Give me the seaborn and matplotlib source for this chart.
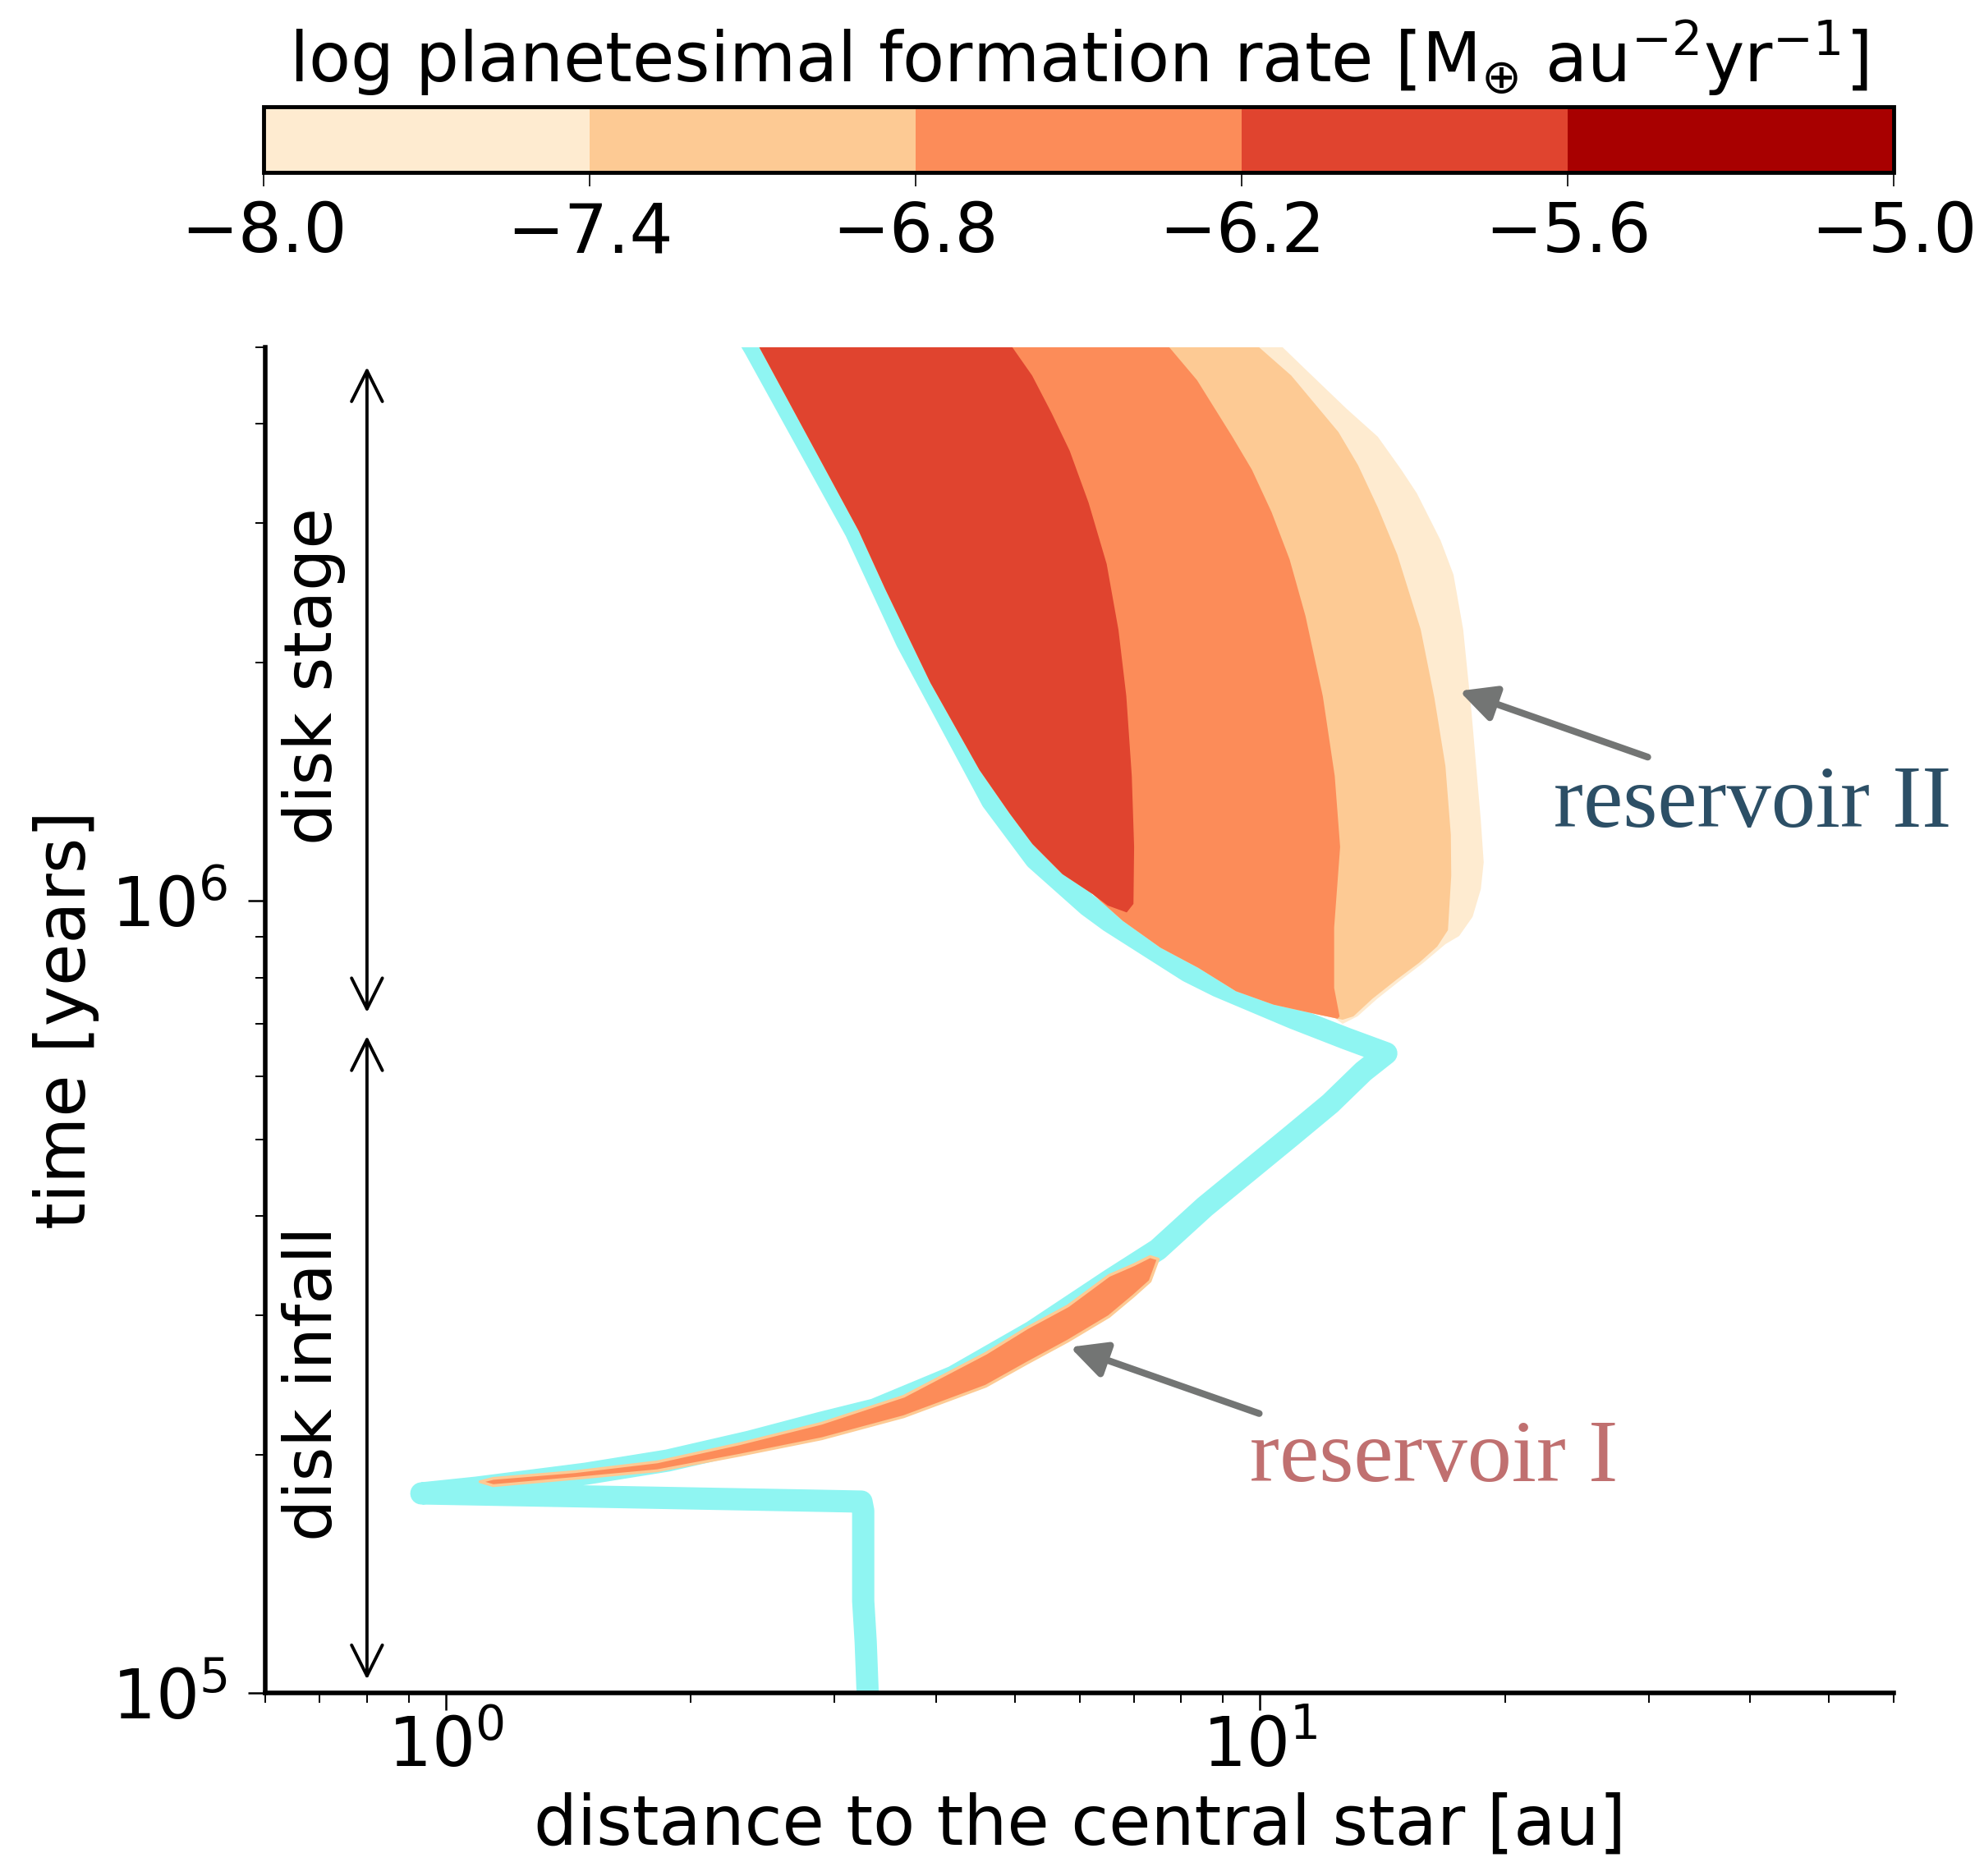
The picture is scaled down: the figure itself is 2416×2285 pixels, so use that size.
import numpy as np
import matplotlib
matplotlib.use("Agg")
import matplotlib.pyplot as plt
import matplotlib as mpl
import seaborn as sns

# ---------------- data ----------------
levels = [-8.0, -7.4, -6.8, -6.2, -5.6, -5.0]
cbar_ticklabels = ["\u22128.0", "\u22127.4", "\u22126.8", "\u22126.2", "\u22125.6", "\u22125.0"]

# snow-line trajectory (distance [au], time [yr])
snow_dist = [3.30, 3.278, 3.255, 3.255, 3.239, 2.891, 0.933, 1.090, 1.484, 1.872,
             2.362, 2.891, 3.362, 4.202, 5.251, 6.546, 7.489, 8.551, 9.851, 10.91,
             12.20, 13.39, 14.29, 12.75, 10.99, 8.874, 8.161, 6.531, 6.150, 5.301,
             4.687, 3.681, 3.187, 2.395, 2.318]
snow_time = [9.7e4, 1.16e5, 1.307e5, 1.699e5, 1.744e5, 1.748e5, 1.786e5, 1.816e5, 1.891e5, 1.965e5,
             2.076e5, 2.193e5, 2.279e5, 2.507e5, 2.858e5, 3.322e5, 3.629e5, 4.109e5, 4.629e5, 5.045e5,
             5.55e5, 6.09e5, 6.42e5, 6.703e5, 7.114e5, 7.806e5, 8.149e5, 9.428e5, 9.865e5, 1.130e6,
             1.339e6, 2.128e6, 2.930e6, 4.99e6, 5.28e6]

# reservoir II: inner edge shared by all levels
r2_inner_time = [5.2e6, 4.99e6, 2.930e6, 2.475e6, 1.885e6, 1.463e6, 1.289e6, 1.180e6, 1.081e6,
                 1.020e6, 9.437e5, 8.729e5, 8.233e5, 7.691e5, 7.396e5, 7.183e5, 7.114e5]
r2_inner_dist = [2.38, 2.429, 3.215, 3.465, 3.937, 4.523, 4.927, 5.253, 5.718,
                 6.229, 6.782, 7.544, 8.395, 9.340, 10.39, 11.81, 12.35]

# outer edge of each contour level (rate >= level), top -> bottom
r2_cream_time = [5.16e6, 4.99e6, 4.669e6, 4.185e6, 3.855e6, 3.502e6, 3.270e6, 2.852e6, 2.581e6,
                 2.201e6, 1.734e6, 1.262e6, 1.119e6, 1.035e6, 9.548e5, 9.03e5, 8.818e5, 8.35e5,
                 7.958e5, 7.52e5, 7.148e5, 6.995e5]
r2_cream_dist = [10.32, 10.68, 11.42, 12.76, 13.95, 14.91, 15.58, 16.66, 17.28,
                 17.76, 18.18, 18.67, 18.82, 18.67, 18.24, 17.56, 16.89, 15.86,
                 14.92, 13.92, 13.17, 12.63]

r2_light_time = [5.16e6, 4.99e6, 4.606e6, 3.908e6, 3.550e6, 3.139e6, 2.737e6, 2.201e6, 1.805e6,
                 1.480e6, 1.212e6, 1.076e6, 9.184e5, 8.756e5, 8.35e5, 7.958e5, 7.52e5, 7.148e5, 7.079e5]
r2_light_dist = [9.672, 9.993, 10.92, 12.48, 13.19, 13.95, 14.74, 15.75, 16.37,
                 16.89, 17.15, 17.17, 17.01, 16.50, 15.67, 14.72, 13.73, 13.02, 12.63]

r2_orange_time = [5.16e6, 5.0e6, 4.544e6, 3.855e6, 3.502e6, 3.096e6, 2.699e6, 2.289e6, 1.814e6,
                  1.438e6, 1.170e6, 9.254e5, 7.764e5, 7.148e5, 7.10e5]
r2_orange_dist = [7.523, 7.735, 8.367, 9.245, 9.772, 10.33, 10.87, 11.37, 11.94,
                  12.35, 12.54, 12.33, 12.33, 12.52, 12.45]

r2_red_time = [5.16e6, 5.0e6, 4.606e6, 4.129e6, 3.700e6, 3.182e6, 2.663e6, 2.198e6, 1.814e6,
               1.438e6, 1.170e6, 9.913e5, 9.670e5, 9.865e5]
r2_red_dist = [4.886, 4.963, 5.248, 5.546, 5.837, 6.157, 6.480, 6.700, 6.850,
               6.957, 7.003, 6.990, 6.858, 6.50]
r2_bottom_time = {-8.0: 0.0, -7.4: 0.0, -6.8: 0.0, -6.2: 1.0e6}

# reservoir I thin band
res1_dist = [1.10, 1.142, 1.440, 1.816, 2.292, 2.891, 3.647, 4.599, 5.167, 5.802, 6.516, 6.987, 7.318, 7.489]
res1_upper = [1.85e5, 1.868e5, 1.905e5, 1.960e5, 2.066e5, 2.193e5, 2.372e5, 2.687e5, 2.893e5, 3.085e5,
              3.370e5, 3.476e5, 3.560e5, 3.534e5]
res1_lower = [1.85e5, 1.829e5, 1.868e5, 1.910e5, 1.998e5, 2.096e5, 2.235e5, 2.442e5, 2.611e5, 2.785e5,
              2.991e5, 3.176e5, 3.314e5, 3.534e5]

# annotations
arrow_x = 0.80
disk_stage_span = (7.23e5, 4.72e6)
disk_infall_span = (1.04e5, 6.75e5)
res2_arrow_tip, res2_arrow_tail = (17.56, 1.841e6), (29.93, 1.519e6)
res1_arrow_tip, res1_arrow_tail = (5.84, 2.733e5), (9.975, 2.253e5)
res2_text_pos = (22.94, 1.241e6)
res1_text_pos = (9.71, 1.851e5)

# ---------------- style ----------------
sns.set_style("ticks")
plt.rcParams["font.family"] = ["DejaVu Sans"]
plt.rcParams["mathtext.fontset"] = "dejavusans"
for k in ("text.color", "axes.labelcolor", "xtick.color", "ytick.color", "axes.edgecolor"):
    plt.rcParams[k] = "black"

W, H = 2416, 2285
fig = plt.figure(figsize=(W / 100, H / 100), dpi=100)
ax = fig.add_axes([323 / W, 1 - 2062 / H, 1983 / W, 1639 / H])
cax = fig.add_axes([321 / W, 1 - 210 / H, 1985 / W, 80 / H])

cmap = plt.get_cmap("OrRd")
norm = mpl.colors.Normalize(vmin=levels[0], vmax=levels[-1])
mids = [(a + b) / 2 for a, b in zip(levels[:-1], levels[1:])]
band_colors = [cmap(norm(m)) for m in mids]

ax.set_xscale("log")
ax.set_yscale("log")
ax.set_xlim(0.6, 60)
ax.set_ylim(1e5, 5e6)

# snow line
cyan = "#8ff5f2"
sns.lineplot(x=snow_dist, y=snow_time, sort=False, estimator=None, color=cyan, lw=19.5,
             ax=ax, solid_capstyle="round", solid_joinstyle="round", zorder=2)

# reservoir II filled contours (nested)
inner_t = np.array(r2_inner_time)
inner_d = np.array(r2_inner_dist)
for lev, rt, rd, col in [(-8.0, r2_cream_time, r2_cream_dist, band_colors[0]),
                         (-7.4, r2_light_time, r2_light_dist, band_colors[1]),
                         (-6.8, r2_orange_time, r2_orange_dist, band_colors[2]),
                         (-6.2, r2_red_time, r2_red_dist, band_colors[3])]:
    m = inner_t >= r2_bottom_time[lev]
    xs = np.concatenate([inner_d[m], np.array(rd)[::-1]])
    ys = np.concatenate([inner_t[m], np.array(rt)[::-1]])
    ax.fill(xs, ys, color=col, lw=0, zorder=3)

# reservoir I
ax.fill_between(res1_dist, res1_lower, res1_upper, facecolor=band_colors[2],
                edgecolor=band_colors[1], lw=2.5, zorder=3)

# disk stage / infall arrows
for span in (disk_stage_span, disk_infall_span):
    ax.annotate("", xy=(arrow_x, span[1]), xytext=(arrow_x, span[0]),
                arrowprops=dict(arrowstyle="<->,head_length=0.5,head_width=0.25",
                                mutation_scale=54, lw=2.8, color="black",
                                shrinkA=0, shrinkB=0), zorder=5)
ax.text(0.688, np.sqrt(disk_stage_span[0] * disk_stage_span[1]) * 1.04, "disk stage",
        rotation=90, ha="center", va="center", fontsize=58)
ax.text(0.688, 2.46e5, "disk infall", rotation=90, ha="center", va="center", fontsize=58)

# reservoir arrows and labels
gray = "#737574"
for tip, tail in [(res2_arrow_tip, res2_arrow_tail), (res1_arrow_tip, res1_arrow_tail)]:
    ax.annotate("", xy=tip, xytext=tail,
                arrowprops=dict(arrowstyle="-|>,head_length=0.6,head_width=0.3",
                                mutation_scale=44, lw=6, color=gray,
                                shrinkA=0, shrinkB=0), zorder=5)
ax.text(*res2_text_pos, "reservoir II", color="#2c4f66", fontsize=78,
        family="Liberation Serif", ha="left", va="baseline")
ax.text(*res1_text_pos, "reservoir I", color="#c07070", fontsize=78,
        family="Liberation Serif", ha="left", va="baseline")

# axes styling
sns.despine(ax=ax)
for s in ("left", "bottom"):
    ax.spines[s].set_linewidth(4)
    ax.spines[s].set_color("black")
ax.tick_params(which="major", length=15, width=1.8, labelsize=60, color="black")
ax.tick_params(which="minor", length=8.5, width=1.4, color="black")
ax.tick_params(axis="y", which="major", pad=18)
ax.xaxis.set_minor_formatter(mpl.ticker.NullFormatter())
ax.yaxis.set_minor_formatter(mpl.ticker.NullFormatter())
ax.set_xlabel("distance to the central star [au]", fontsize=60, labelpad=10)
ax.set_ylabel("time [years]", fontsize=60, labelpad=10)

# colorbar
lcmap = mpl.colors.ListedColormap(band_colors)
bnorm = mpl.colors.BoundaryNorm(levels, lcmap.N)
cb = fig.colorbar(mpl.cm.ScalarMappable(norm=bnorm, cmap=lcmap), cax=cax,
                  orientation="horizontal", ticks=levels)
cb.ax.set_xticklabels(cbar_ticklabels)
cb.outline.set_linewidth(3.5)
cb.outline.set_edgecolor("black")
cb.ax.tick_params(length=12, width=1.2, labelsize=60, pad=12, color="black")
cb.ax.xaxis.set_label_position("top")
cb.set_label(r"log planetesimal formation rate [M$_{\oplus}$ au$^{-2}$yr$^{-1}$]",
             fontsize=60, labelpad=22)

fig.savefig("out.png", dpi=100)
